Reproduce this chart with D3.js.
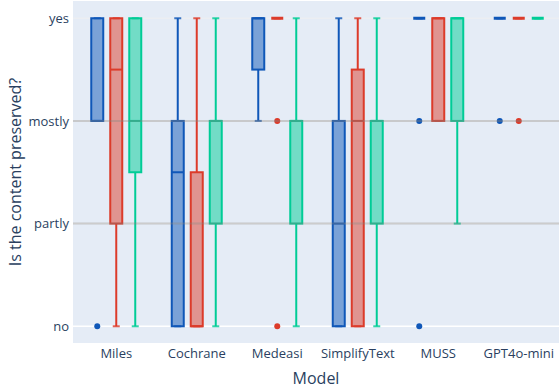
<!DOCTYPE html>
<html>
<head>
<meta charset="utf-8">
<script src="https://cdn.jsdelivr.net/npm/d3@7"></script>
<style>
  html, body { margin: 0; padding: 0; background: #fff; }
  text { font-family: "Open Sans", "Noto Sans", sans-serif; fill: #2a3f5f; }
</style>
</head>
<body>
<svg id="chart" width="559" height="392"></svg>
<script>
// ---- data ----
const models = ["Miles", "Cochrane", "Medeasi", "SimplifyText", "MUSS", "GPT4o-mini"];
const yTickLabels = ["no", "partly", "mostly", "yes"];
const seriesNames = ["Series A", "Series B", "Series C"];
const seriesColors = ["#0f57b8", "#dc3b2a", "#00cc96"];

// box statistics per model (0 = no, 1 = partly, 2 = mostly, 3 = yes)
const blueQ1  = [2, 0, 2.5, 0, 3, 3];
const blueMed = [2, 1.5, 3, 1, 3, 3];
const blueQ3  = [3, 2, 3, 2, 3, 3];
const blueLo  = [2, 0, 2, 0, 3, 3];
const blueHi  = [3, 3, 3, 3, 3, 3];
const blueOut = [[0], [], [], [], [2, 0], [2]];

const redQ1  = [1, 0, 3, 0, 2, 3];
const redMed = [2.5, 0, 3, 2, 3, 3];
const redQ3  = [3, 1.5, 3, 2.5, 3, 3];
const redLo  = [0, 0, 3, 0, 2, 3];
const redHi  = [3, 3, 3, 3, 3, 3];
const redOut = [[], [], [2, 0], [], [], [2]];

const greenQ1  = [1.5, 1, 1, 1, 2, 3];
const greenMed = [2, 2, 2, 2, 3, 3];
const greenQ3  = [3, 2, 2, 2, 3, 3];
const greenLo  = [0, 0, 0, 0, 1, 3];
const greenHi  = [3, 3, 3, 3, 3, 3];
const greenOut = [[], [], [], [], [], []];

const seriesStats = [
  {q1: blueQ1, med: blueMed, q3: blueQ3, lo: blueLo, hi: blueHi, out: blueOut},
  {q1: redQ1, med: redMed, q3: redQ3, lo: redLo, hi: redHi, out: redOut},
  {q1: greenQ1, med: greenMed, q3: greenQ3, lo: greenLo, hi: greenHi, out: greenOut}
];

// ---- layout ----
const W = 559, H = 392;
const plot = {left: 73, right: 559, top: 1, bottom: 343};
const svg = d3.select("#chart");

const x = d3.scaleBand().domain(models).range([76, 559]);
const y = d3.scaleLinear().domain([-0.163, 3.168]).range([plot.bottom, plot.top]);

const slot = 19, boxW = 12, capW = 7;

svg.append("rect")
  .attr("x", plot.left).attr("y", plot.top)
  .attr("width", plot.right - plot.left).attr("height", plot.bottom - plot.top)
  .attr("fill", "#e5ecf6");

// base gridlines
const gridG = svg.append("g");
gridG.selectAll("line").data([0, 1, 2, 3]).join("line")
  .attr("x1", plot.left).attr("x2", plot.right)
  .attr("y1", d => y(d)).attr("y2", d => y(d))
  .attr("stroke", d => d === 3 ? "#eceef2" : "#ffffff")
  .attr("stroke-width", 1.5);

// y axis labels
const yAxis = d3.axisLeft(y).tickValues([0, 1, 2, 3])
  .tickFormat(d => yTickLabels[d]).tickSize(0).tickPadding(3);
const yG = svg.append("g").attr("transform", `translate(${plot.left - 1},0)`).call(yAxis);
yG.select(".domain").remove();
yG.selectAll("text").style("font-size", "13px").attr("fill", "#2a3f5f")
  .style("font-family", "'Open Sans', sans-serif");

// x axis labels
const xAxis = d3.axisBottom(x).tickSize(0).tickPadding(6);
const xG = svg.append("g").attr("transform", `translate(0,${plot.bottom})`).call(xAxis);
xG.select(".domain").remove();
xG.selectAll("text").style("font-size", "13px").attr("fill", "#2a3f5f")
  .style("font-family", "'Open Sans', sans-serif");

// boxes
seriesStats.forEach((s, si) => {
  const color = seriesColors[si];
  const g = svg.append("g").attr("class", "series");
  models.forEach((m, i) => {
    const cx = x(m) + x.bandwidth() / 2 + (si - 1) * slot;
    const bg = g.append("g");
    // whiskers
    bg.append("line").attr("x1", cx).attr("x2", cx)
      .attr("y1", y(s.hi[i])).attr("y2", y(s.q3[i]))
      .attr("stroke", color).attr("stroke-width", 2);
    bg.append("line").attr("x1", cx).attr("x2", cx)
      .attr("y1", y(s.q1[i])).attr("y2", y(s.lo[i]))
      .attr("stroke", color).attr("stroke-width", 2);
    [s.hi[i], s.lo[i]].forEach(v => {
      bg.append("line").attr("x1", cx - capW / 2).attr("x2", cx + capW / 2)
        .attr("y1", y(v)).attr("y2", y(v))
        .attr("stroke", color).attr("stroke-width", 2).attr("stroke-opacity", 0.8);
    });
    // box
    const flat = s.q1[i] === s.q3[i];
    bg.append("rect")
      .attr("x", cx - boxW / 2).attr("width", boxW)
      .attr("y", y(s.q3[i])).attr("height", Math.max(0, y(s.q1[i]) - y(s.q3[i])))
      .attr("fill", color).attr("fill-opacity", 0.5)
      .attr("stroke", color).attr("stroke-width", flat ? 3 : 2);
    // median
    bg.append("line").attr("x1", cx - boxW / 2).attr("x2", cx + boxW / 2)
      .attr("y1", y(s.med[i])).attr("y2", y(s.med[i]))
      .attr("stroke", color).attr("stroke-width", flat ? 3 : 2);
    // outliers
    bg.selectAll("circle").data(s.out[i]).join("circle")
      .attr("cx", cx).attr("cy", d => y(d)).attr("r", 3)
      .attr("fill", color);
  });
});

// gray reference lines on top
svg.append("g").selectAll("line").data([1, 2]).join("line")
  .attr("x1", plot.left).attr("x2", plot.right)
  .attr("y1", d => y(d)).attr("y2", d => y(d))
  .attr("stroke", "rgba(128,128,128,0.4)").attr("stroke-width", 2);

// axis titles
svg.append("text")
  .attr("x", (plot.left + plot.right) / 2).attr("y", 384)
  .attr("text-anchor", "middle").style("font-size", "16px")
  .text("Model");
svg.append("text")
  .attr("transform", `translate(21,${(plot.top + plot.bottom) / 2}) rotate(-90)`)
  .attr("text-anchor", "middle").style("font-size", "16px")
  .text("Is the content preserved?");
</script>
</body>
</html>
